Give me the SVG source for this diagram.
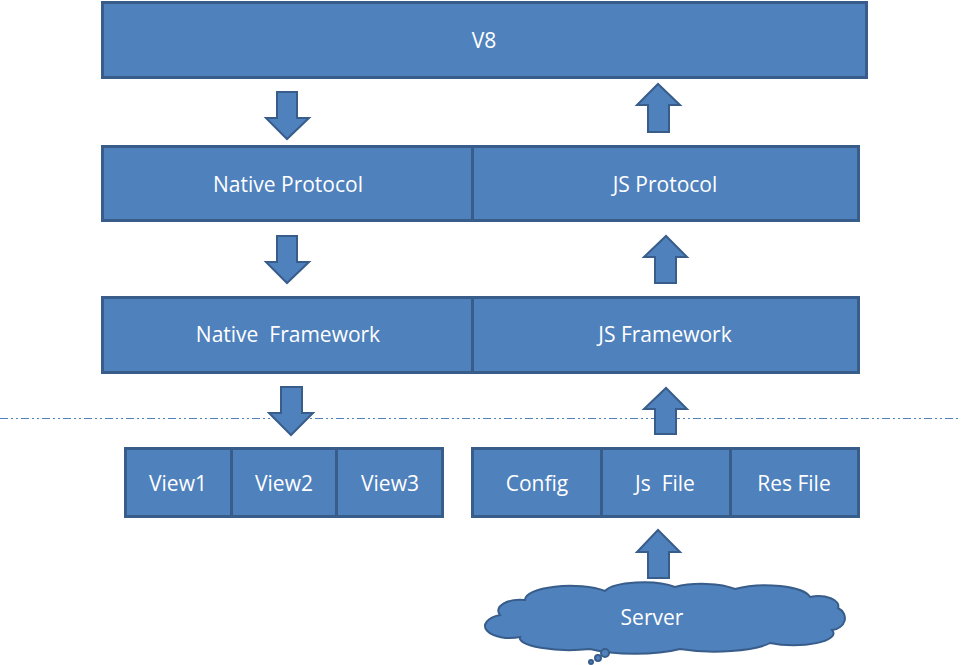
<svg xmlns="http://www.w3.org/2000/svg" width="961" height="665" viewBox="0 0 961 665">
<style>
.box{fill:#4F81BD;stroke:#385D8A;stroke-width:3}
.arr{fill:#4F81BD;stroke:#385D8A;stroke-width:2;stroke-linejoin:miter}
.t{fill:#FFFFFF;font-family:"Open Sans","Liberation Sans",sans-serif;font-size:21px;text-anchor:middle;dominant-baseline:central;white-space:pre}
</style>
<rect width="961" height="665" fill="#FFFFFF"/>
<g id="v8"><rect class="box" x="102.5" y="2.5" width="764" height="75"/><text class="t" x="484" y="40">V8</text></g>
<g id="native-protocol"><rect class="box" x="102.5" y="146.5" width="370" height="74"/><text class="t" x="288" y="184">Native Protocol</text></g>
<g id="js-protocol"><rect class="box" x="472.5" y="146.5" width="386" height="74"/><text class="t" x="665" y="184">JS Protocol</text></g>
<g id="native-framework"><rect class="box" x="102.5" y="297.5" width="370" height="75"/><text class="t" x="288" y="334">Native  Framework</text></g>
<g id="js-framework"><rect class="box" x="472.5" y="297.5" width="386" height="75"/><text class="t" x="665" y="334">JS Framework</text></g>
<g id="view1"><rect class="box" x="125.5" y="448.5" width="106" height="68"/><text class="t" x="178" y="483">View1</text></g>
<g id="view2"><rect class="box" x="231.5" y="448.5" width="105" height="68"/><text class="t" x="284" y="483">View2</text></g>
<g id="view3"><rect class="box" x="336.5" y="448.5" width="106" height="68"/><text class="t" x="390" y="483">View3</text></g>
<g id="config"><rect class="box" x="472.5" y="448.5" width="129" height="68"/><text class="t" x="537" y="483">Config</text></g>
<g id="jsfile"><rect class="box" x="601.5" y="448.5" width="129" height="68"/><text class="t" x="665" y="483">Js  File</text></g>
<g id="resfile"><rect class="box" x="730.5" y="448.5" width="128" height="68"/><text class="t" x="794" y="483">Res File</text></g>
<g id="server">
<path class="arr" d="M 500,615 A 22,11 0 0 1 525,600 A 45,14 0 0 1 605,591 A 40,12 0 0 1 675,587 A 40,12 0 0 1 735,589 A 45,14 0 0 1 810,597 A 20,10 0 0 1 838,608 A 15,12 0 0 1 832,630 A 40,12 0 0 1 770,643 A 60,14 0 0 1 680,649 A 60,14 0 0 1 590,649 A 50,12 0 0 1 520,637 A 25,12 0 0 1 500,615 Z"/>
<circle class="arr" cx="605" cy="653" r="4"/>
<circle class="arr" cx="598" cy="658" r="3"/>
<circle class="arr" cx="591" cy="662" r="2"/>
<text class="t" x="652" y="617">Server</text>
</g>
<g id="connectors">
<line x1="0" y1="418.5" x2="961" y2="418.5" stroke="#4F81BD" stroke-width="1" stroke-dasharray="8,3,2,3,2,3"/>
<path class="arr" d="M277,92 H297 V118 H309 L287,139 L266,118 H277 Z"/>
<path class="arr" d="M277,236 H297 V262 H309 L287,283 L266,262 H277 Z"/>
<path class="arr" d="M281,387 H302 V413 H313 L291,435 L269,413 H281 Z"/>
<path class="arr" d="M648,132 V105 H637 L658,84 L680,105 H669 V132 Z"/>
<path class="arr" d="M655,283 V257 H644 L666,236 L687,257 H676 V283 Z"/>
<path class="arr" d="M655,434 V409 H644 L666,388 L687,409 H676 V434 Z"/>
<path class="arr" d="M648,578 V552 H637 L658,530 L680,552 H669 V578 Z"/>
</g>
</svg>
